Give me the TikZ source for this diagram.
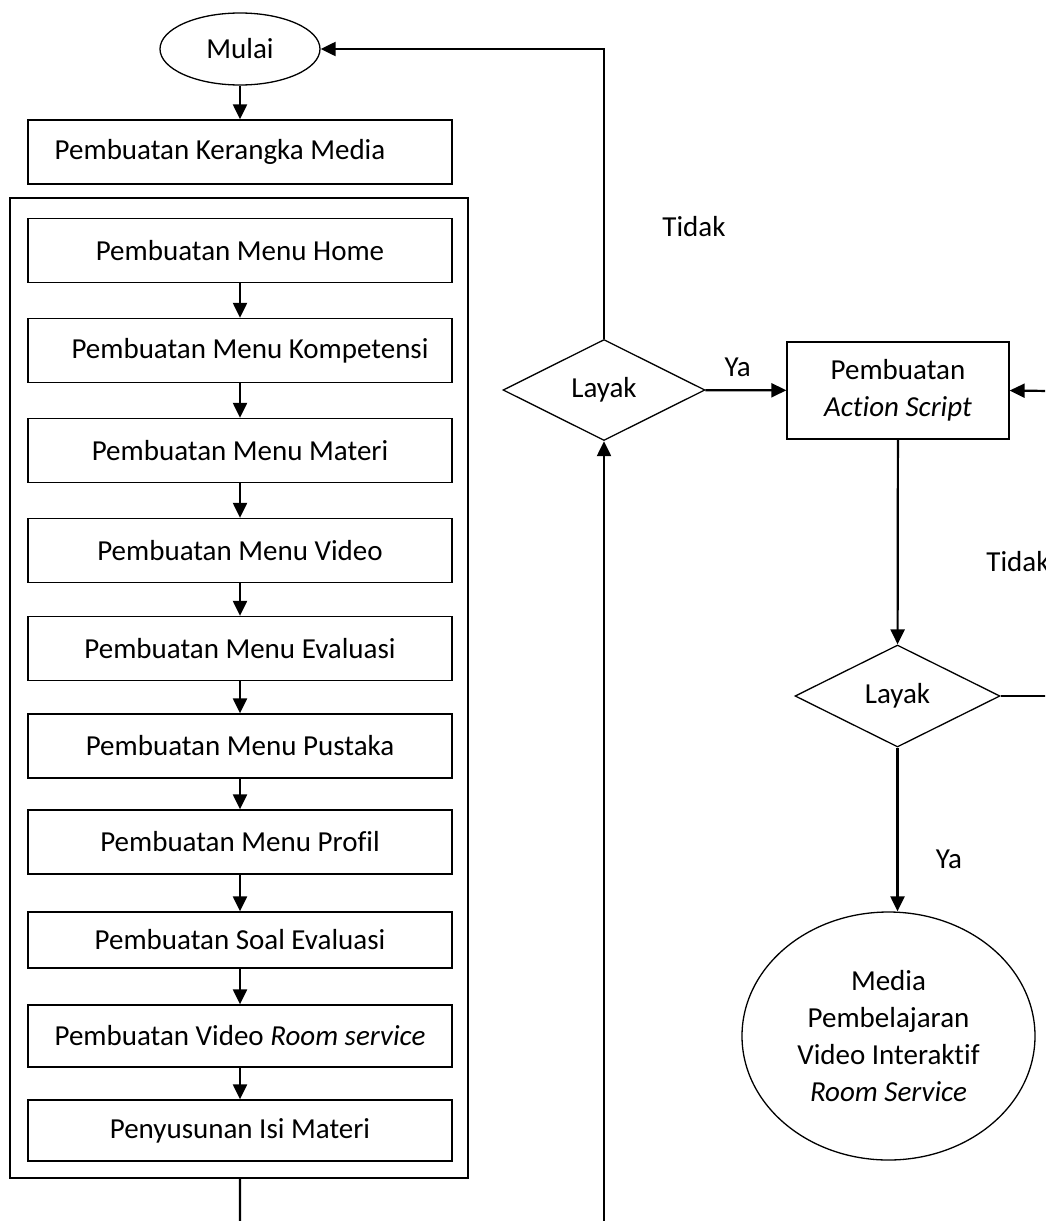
\documentclass[tikz,border=0pt]{standalone}
\usepackage{fontspec}
\setmainfont[Ligatures={NoCommon}]{Carlito}
\usetikzlibrary{shapes.geometric,arrows.meta}

\begin{document}
\begin{tikzpicture}[x=1pt, y=-1pt, node distance=100pt, font=\fontsize{29}{37}\selectfont,
  block/.style={rectangle, draw, line width=1.3pt, minimum width=424pt, minimum height=64pt, inner sep=0pt, align=center},
  decision/.style={diamond, draw, line width=1.3pt, inner sep=0pt},
  terminal/.style={ellipse, draw, line width=1.3pt, inner sep=0pt, align=center},
  line/.style={line width=2.2pt},
  arrow/.style={line width=2.2pt, -{Triangle[length=15pt, width=14pt]}}]
  \useasboundingbox (0,0) rectangle (1045,1221);
  \clip (0,0) rectangle (1045,1221);

  \node[terminal, minimum width=160pt, minimum height=72pt] (mulai) at (240,49) {Mulai};
  \node[block] (kerangka) at (240,152) {Pembuatan Kerangka Media\hspace{40pt}};
  \node[draw, line width=1.3pt, minimum width=458pt, minimum height=980pt, inner sep=0pt] (group) at (239,688) {};

  \node[block] (home) at (240,250.5) {Pembuatan Menu Home};
  \node[block, below of=home] (kompetensi) {\hspace{20pt}Pembuatan Menu Kompetensi};
  \node[block, below of=kompetensi] (materi) {Pembuatan Menu Materi};
  \node[block, below of=materi] (video) {Pembuatan Menu Video};
  \node[block, below of=video, node distance=98pt] (evaluasi) {Pembuatan Menu Evaluasi};
  \node[block, below of=evaluasi, node distance=97.5pt] (pustaka) {Pembuatan Menu Pustaka};
  \node[block, below of=pustaka, node distance=96pt] (profil) {Pembuatan Menu Profil};
  \node[block, below of=profil, node distance=98pt, minimum height=56pt] (soal) {Pembuatan Soal Evaluasi};
  \node[block, below of=soal, node distance=96pt, minimum height=62pt] (room) {Pembuatan Video \textit{Room service}};
  \node[block, below of=room, node distance=94.5pt, minimum height=61pt] (isi) {Penyusunan Isi Materi};

  \node[decision, minimum width=202pt, minimum height=101pt] (layak1) at (604,390) {Layak};
  \node[block, minimum width=222pt, minimum height=97pt] (script) at (898,390.5) {Pembuatan\\\textit{Action Script}};
  \node[decision, minimum width=205pt, minimum height=102pt] (layak2) at (897.5,696) {Layak};
  \node[terminal, minimum width=293pt, minimum height=248pt] (hasil) at (888.5,1036) {Media\\Pembelajaran\\Video Interaktif\\\textit{Room Service}};

  \node (tidak1) at (694,227) {Tidak};
  \node (tidak2) at (1018,562) {Tidak};

  \coordinate (endL) at (240,1225);
  \coordinate (endM) at (604,1225);
  \coordinate (edgeA) at (1050,696);
  \coordinate (edgeB) at (1050,391);

  \draw[arrow] (mulai) -- (kerangka);
  \draw[arrow] (home) -- (kompetensi);
  \draw[arrow] (kompetensi) -- (materi);
  \draw[arrow] (materi) -- (video);
  \draw[arrow] (video) -- (evaluasi);
  \draw[arrow] (evaluasi) -- (pustaka);
  \draw[arrow] (pustaka) -- (profil);
  \draw[arrow] (profil) -- (soal);
  \draw[arrow] (soal) -- (room);
  \draw[arrow] (room) -- (isi);
  \draw[line] (group) -- (endL);

  \draw[arrow] (endM) -- (layak1);
  \draw[arrow] (layak1.north) |- (mulai.east);
  \draw[arrow] (layak1) -- node[above=9pt, pos=0.4] {Ya} (script);
  \draw[arrow] (script) -- (layak2);
  \draw[arrow] (layak2.south) -- node[right=34pt, pos=0.68] {Ya} (layak2.south |- hasil.north);
  \draw[line] (layak2.east) -- (layak2.east -| edgeA);
  \draw[arrow] (edgeB) -- (script.east);

\end{tikzpicture}
\end{document}
